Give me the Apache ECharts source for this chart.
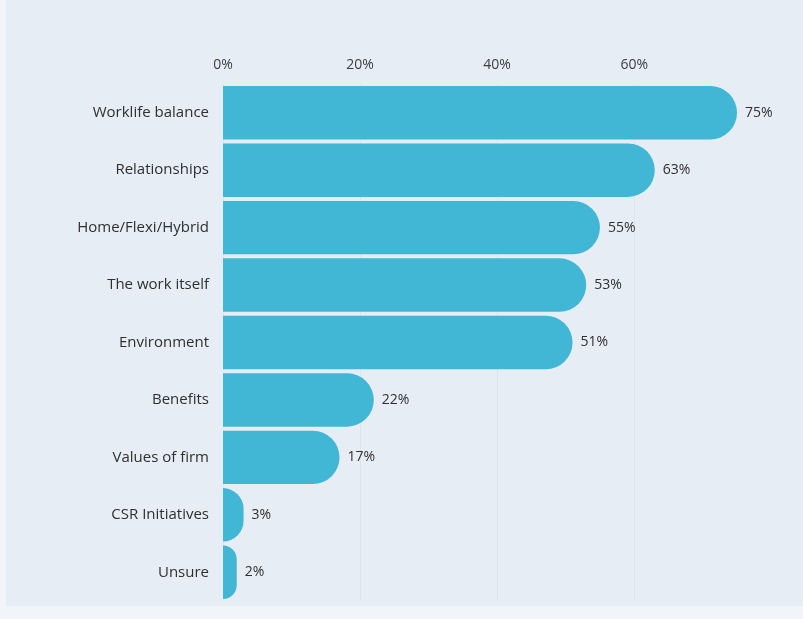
<!DOCTYPE html>
<html>
<head>
<meta charset="utf-8">
<script src="https://cdn.jsdelivr.net/npm/echarts@6/dist/echarts.min.js"></script>
<style>
html,body{margin:0;padding:0;background:#f1f4f8;}
#panel{position:absolute;left:6px;top:0;width:797px;height:606px;background:#e6edf5;}
#chart{position:absolute;left:0;top:0;width:803px;height:619px;}
</style>
</head>
<body>
<div id="panel"></div>
<div id="chart"></div>
<script>
const categories = ["Worklife balance","Relationships","Home/Flexi/Hybrid","The work itself","Environment","Benefits","Values of firm","CSR Initiatives","Unsure"];
const values = [75,63,55,53,51,22,17,3,2];
const tickValues = [0,20,40,60];

const chart = echarts.init(document.getElementById('chart'), null, {renderer:'canvas'});
chart.setOption({
  backgroundColor: 'transparent',
  animation: false,
  grid: {left: 223, right: 66, top: 84, bottom: 18, containLabel: false},
  xAxis: {
    type: 'value', position: 'top', min: 0, max: 75, interval: 20,
    axisLine: {show: false}, axisTick: {show: false},
    splitLine: {show: true, showMaxLine: false, lineStyle: {color: '#dde4ec', width: 1}},
    axisLabel: {
      showMaxLabel: false, color: '#3d3d3d', fontSize: 14, margin: 12,
      fontFamily: 'Open Sans',
      formatter: v => tickValues.includes(v) ? v + '%' : ''
    }
  },
  yAxis: {
    type: 'category', data: categories, inverse: true,
    axisLine: {show: false}, axisTick: {show: false},
    axisLabel: {color: '#2f2f2f', fontSize: 15, margin: 14, fontFamily: 'Open Sans'}
  },
  series: [{
    type: 'bar', data: values, barCategoryGap: '7%',
    itemStyle: {color: '#41b7d5', borderRadius: [0, 27, 27, 0]},
    label: {show: true, position: 'right', distance: 8, color: '#2f2f2f', fontSize: 14,
      fontFamily: 'Open Sans', formatter: p => p.value + '%'}
  }]
});
</script>
</body>
</html>
